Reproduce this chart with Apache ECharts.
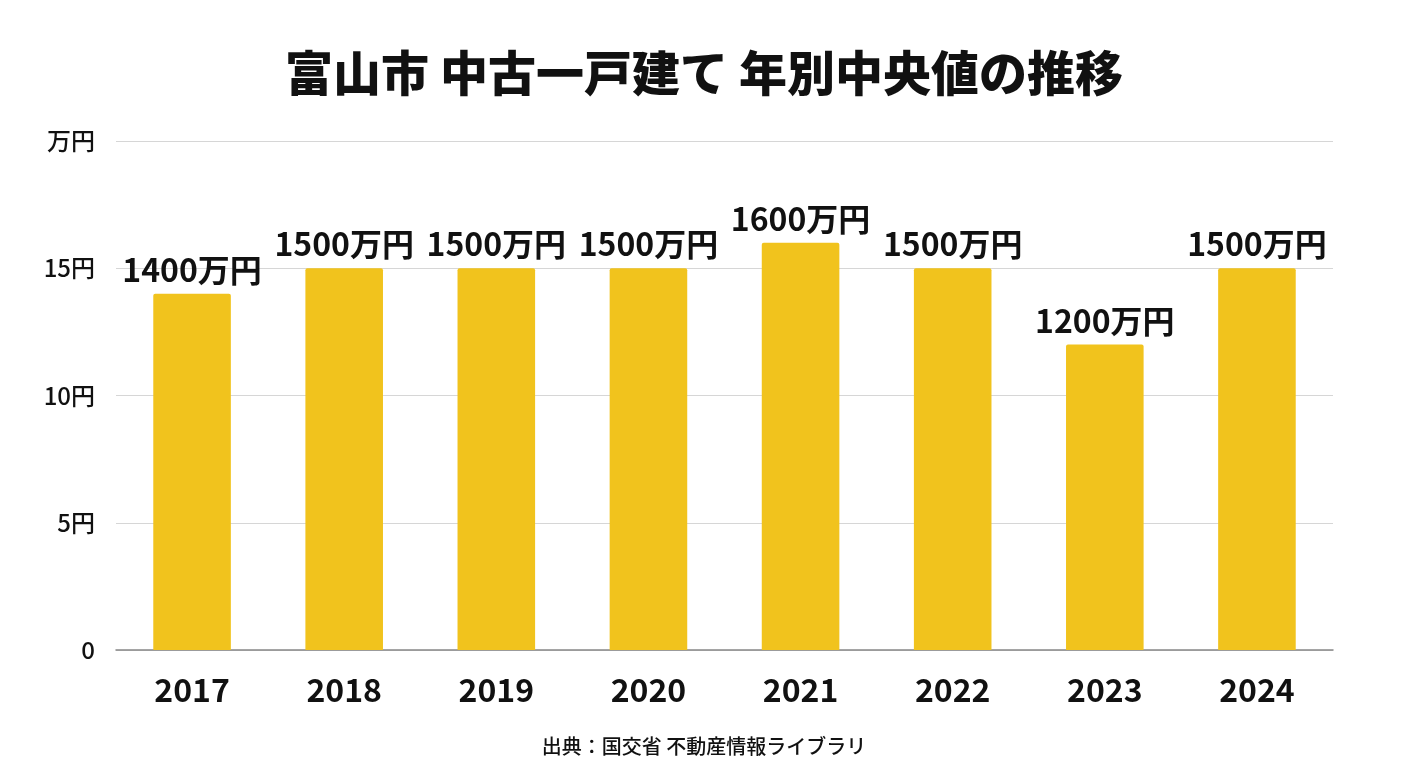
<!DOCTYPE html>
<html>
<head>
<meta charset="utf-8">
<script src="https://cdn.jsdelivr.net/npm/echarts@6/dist/echarts.min.js"></script>
<style>
  html, body { margin: 0; padding: 0; background: #fff; }
  #bar_main { width: 1408px; height: 768px; }
</style>
</head>
<body>
<div id="bar_main"></div>
<script>
  // 年別データ（単位：百万円 → ラベルは万円表示）
  var years = ['2017', '2018', '2019', '2020', '2021', '2022', '2023', '2024'];
  var medianValues = [14, 15, 15, 15, 16, 15, 12, 15];
  var valueLabels = ['1400万円', '1500万円', '1500万円', '1500万円', '1600万円', '1500万円', '1200万円', '1500万円'];
  var yTickValues = [0, 5, 10, 15, 20];
  var yTickLabels = ['0', '5円', '10円', '15円', '万円'];

  var font = '"Noto Sans CJK JP", "Noto Sans", sans-serif';
  var chart = echarts.init(document.getElementById('bar_main'));

  chart.setOption({
    animation: false,
    textStyle: { fontFamily: font },
    title: [{
      text: '富山市 中古一戸建て 年別中央値の推移',
      left: 'center',
      top: 44,
      textStyle: { fontSize: 48, fontWeight: 900, color: '#111', fontFamily: font }
    }, {
      text: '出典：国交省 不動産情報ライブラリ',
      left: 'center',
      top: 731,
      textStyle: { fontSize: 20, fontWeight: 500, color: '#111', fontFamily: font }
    }],
    grid: {
      left: 116,
      right: 75,
      top: 141,
      bottom: 118
    },
    xAxis: {
      type: 'category',
      data: years,
      axisLine: { show: true, lineStyle: { color: '#888', width: 1.5 } },
      axisTick: { show: false },
      axisLabel: {
        margin: 24,
        fontSize: 32,
        fontWeight: 'bold',
        color: '#111',
        fontFamily: font
      }
    },
    yAxis: {
      type: 'value',
      min: 0,
      max: 20,
      interval: 5,
      axisLine: { show: false },
      axisTick: { show: false },
      splitLine: { lineStyle: { color: '#d6d6d6', width: 1.2 } },
      axisLabel: {
        margin: 21,
        fontSize: 24,
        fontWeight: 500,
        color: '#111',
        fontFamily: font,
        formatter: function (v) {
          var i = yTickValues.indexOf(v);
          return i >= 0 ? yTickLabels[i] : '';
        }
      }
    },
    series: [{
      type: 'bar',
      data: medianValues,
      barWidth: '51%',
      itemStyle: { color: '#F1C31D', borderRadius: [2, 2, 0, 0] },
      label: {
        show: true,
        position: 'top',
        distance: 8,
        fontSize: 32,
        fontWeight: 'bold',
        color: '#111',
        fontFamily: font,
        formatter: function (p) { return valueLabels[p.dataIndex]; }
      }
    }]
  });
</script>
</body>
</html>
